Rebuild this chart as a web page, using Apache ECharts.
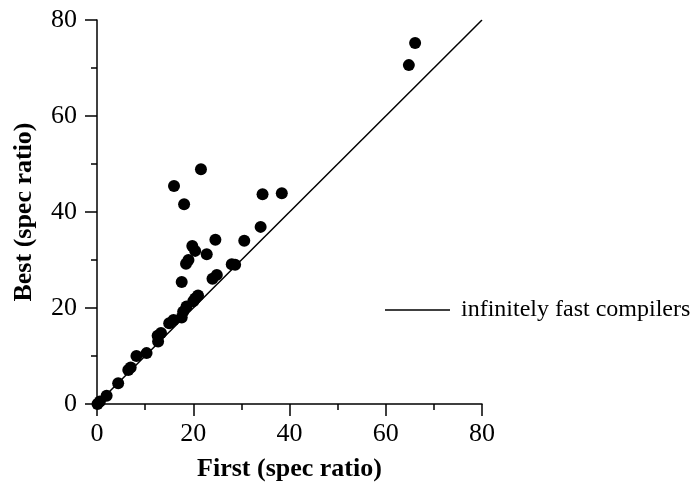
<!DOCTYPE html>
<html>
<head>
<meta charset="utf-8">
<script src="https://cdn.jsdelivr.net/npm/echarts@6/dist/echarts.min.js"></script>
<style>html,body{margin:0;padding:0;background:#fff;}#c{width:691px;height:482px;}</style>
</head>
<body>
<div id="c"></div>
<script>
const firstValues = [66.1, 64.8, 21.6, 16.0, 18.1, 34.4, 38.4, 34.0, 24.6, 30.6, 19.8, 20.4, 22.8, 19.0, 18.5, 28.0, 28.7, 24.9, 24.0, 17.6, 21.0, 20.4, 20.0, 18.6, 17.9, 17.6, 15.9, 15.0, 13.3, 12.7, 12.6, 10.3, 8.2, 6.5, 7.0, 4.4, 2.0, 0.6, 0.1];
const bestValues  = [75.2, 70.6, 48.9, 45.4, 41.6, 43.7, 43.9, 36.9, 34.2, 34.0, 32.9, 31.9, 31.2, 30.0, 29.2, 29.1, 29.0, 26.9, 26.1, 25.4, 22.6, 22.0, 21.4, 20.3, 19.2, 18.0, 17.5, 16.8, 14.8, 13.0, 14.2, 10.6, 10.0, 7.1, 7.6, 4.3, 1.7, 0.5, 0.0];
const refLineX = [0, 80];
const refLineY = [0, 80];
const xTicks = [0, 20, 40, 60, 80];
const yTicks = [0, 20, 40, 60, 80];
const lineName = 'infinitely fast compilers';

const font = '"Liberation Serif", "Times New Roman", serif';
const chart = echarts.init(document.getElementById('c'), null, {renderer: 'canvas'});
const axisCommon = {
  min: xTicks[0], max: xTicks[xTicks.length - 1], interval: 20,
  axisLine: {show: true, lineStyle: {color: '#000', width: 1.5}},
  axisTick: {show: true, inside: false, length: 12, lineStyle: {color: '#000', width: 1.5}},
  minorTick: {show: true, splitNumber: 2, length: 6, lineStyle: {color: '#000', width: 1.5}},
  splitLine: {show: false},
  nameLocation: 'middle',
  nameTextStyle: {fontFamily: font, fontSize: 26, fontWeight: 'bold', color: '#000'}
};
chart.setOption({
  animation: false,
  backgroundColor: '#fff',
  grid: {left: 97, top: 20, width: 385, height: 384, containLabel: false, outerBoundsMode: 'none'},
  xAxis: Object.assign({}, axisCommon, {
    type: 'value', name: 'First (spec ratio)', nameGap: 52,
    axisLabel: {margin: 17, fontFamily: font, fontSize: 26, color: '#000'}
  }),
  yAxis: Object.assign({}, axisCommon, {
    type: 'value', name: 'Best (spec ratio)', nameGap: 60,
    min: yTicks[0], max: yTicks[yTicks.length - 1],
    axisLabel: {margin: 20, fontFamily: font, fontSize: 26, color: '#000'}
  }),
  legend: {
    data: [lineName], left: 385, top: 298, padding: 0, itemWidth: 65, itemHeight: 24,
    textStyle: {fontFamily: font, fontSize: 24, color: '#000', padding: [0, 0, 0, 6]},
    icon: 'path://M0,0 L65,0 L65,1.5 L0,1.5 Z',
    itemStyle: {color: '#000'}
  },
  series: [
    {
      type: 'line', name: lineName, data: refLineX.map((x, i) => [x, refLineY[i]]),
      symbol: 'none', lineStyle: {color: '#000', width: 1.5}, itemStyle: {color: '#000'}, z: 2
    },
    {
      type: 'scatter', name: 'points', data: firstValues.map((x, i) => [x, bestValues[i]]),
      symbol: 'circle', symbolSize: 12, itemStyle: {color: '#000', opacity: 1}, clip: false, z: 3
    }
  ]
});
</script>
</body>
</html>
